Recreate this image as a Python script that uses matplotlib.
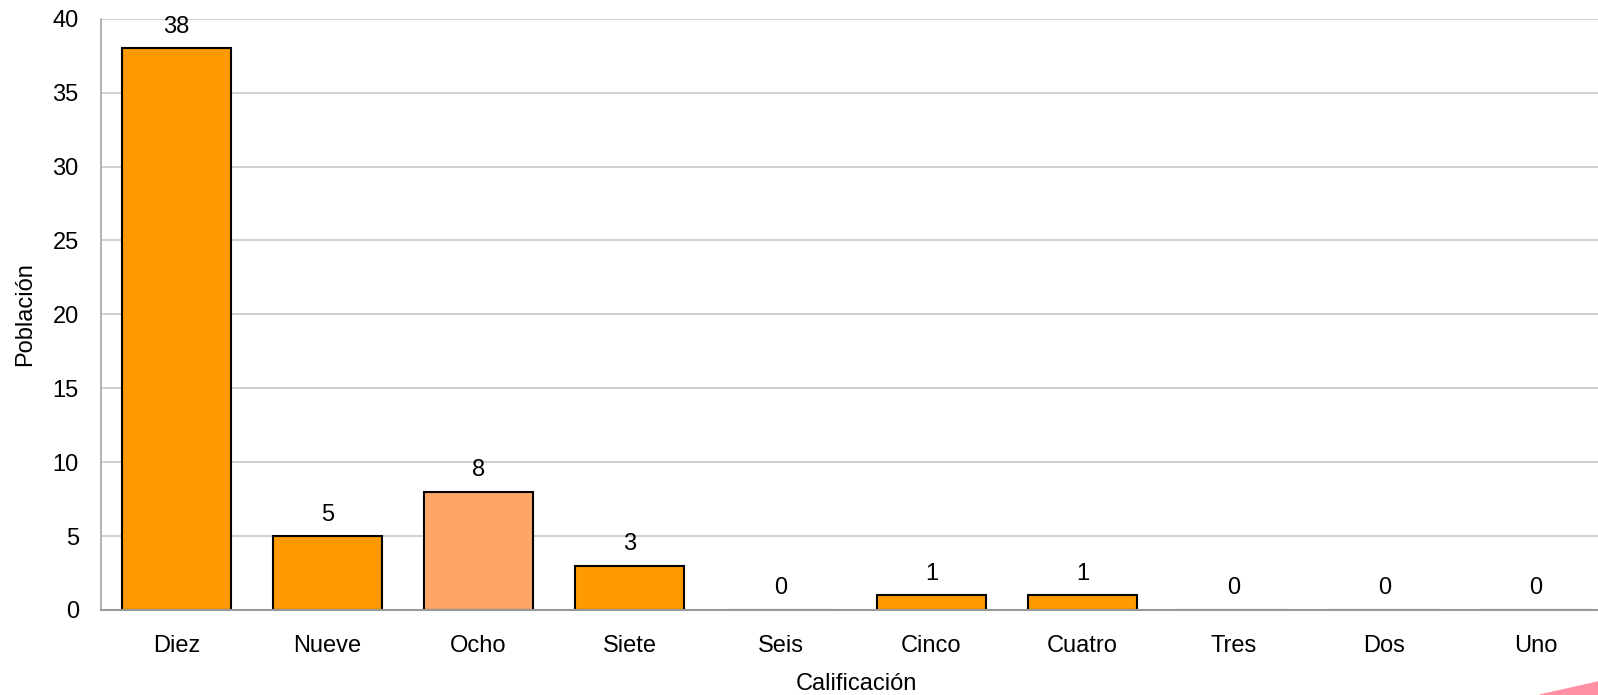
import matplotlib
matplotlib.use("Agg")
import matplotlib.pyplot as plt
from matplotlib.patches import Polygon

categories = ["Diez", "Nueve", "Ocho", "Siete", "Seis", "Cinco", "Cuatro", "Tres", "Dos", "Uno"]
values = [38, 5, 8, 3, 0, 1, 1, 0, 0, 0]
bar_colors = ["#FF9900", "#FF9900", "#FFA666", "#FF9900", "#FF9900",
              "#FF9900", "#FF9900", "#FF9900", "#FF9900", "#FF9900"]
yticks = [0, 5, 10, 15, 20, 25, 30, 35, 40]

plt.rcParams['font.family'] = ['Liberation Sans', 'DejaVu Sans']
FS = 17

W, H = 1598, 695
fig = plt.figure(figsize=(W / 100, H / 100), dpi=100)
left = 101 / W
bottom = (H - 610) / H
width = 1510 / W
height = (610 - 18.7) / H
ax = fig.add_axes([left, bottom, width, height])

x = list(range(len(categories)))
ax.bar(x, values, width=0.72, color=bar_colors, edgecolor="black", linewidth=1.5, zorder=3)

for xi, v in zip(x, values):
    ax.annotate(str(v), (xi, v), xytext=(0, 15.5), textcoords="offset points",
                ha="center", va="center", fontsize=FS, color="black")

ax.set_xlim(-0.5, len(categories) - 0.5)
ax.set_ylim(0, 40)
ax.set_yticks(yticks)
ax.set_yticklabels([str(t) for t in yticks], fontsize=FS)
ax.set_xticks(x)
ax.set_xticklabels(categories, fontsize=FS)
ax.tick_params(axis="y", length=0, pad=16)
ax.tick_params(axis="x", length=0, pad=18)
ax.yaxis.grid(True, color="#C8C8C8", linewidth=1.2, zorder=0)
ax.set_axisbelow(True)

for s in ["top", "right"]:
    ax.spines[s].set_visible(False)
ax.spines["left"].set_color("#A6A6A6")
ax.spines["left"].set_linewidth(1.2)
ax.spines["bottom"].set_color("#999999")
ax.spines["bottom"].set_linewidth(1.5)
ax.spines["bottom"].set_zorder(4)

fig.text(856 / W, 1 - 684 / H, "Calificación", ha="center", va="center", fontsize=FS)
fig.text(25 / W, 1 - 314 / H, "Población", ha="center", va="center", fontsize=FS, rotation=90)

# decorative pink swoosh at the bottom-right corner
swoosh = Polygon([(1540 / W, 0), (1598 / W, 13 / H), (1598 / W, 0)],
                 closed=True, transform=fig.transFigure, color="#FF8FA3", zorder=10)
fig.patches.append(swoosh)

fig.savefig("out.png", dpi=100)
